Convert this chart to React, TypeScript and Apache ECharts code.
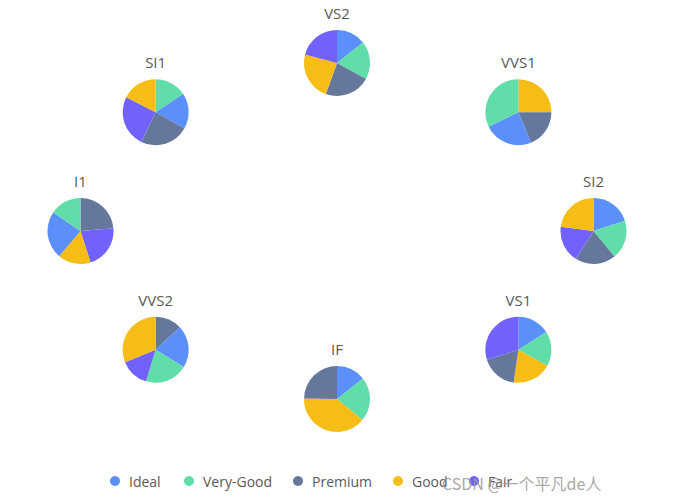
import React, { useEffect, useRef } from "react";
import * as echarts from "echarts";

const cuts = ["Ideal", "Very-Good", "Premium", "Good", "Fair"];
const cutColors = ["#5B8FF9", "#61DDAA", "#65789B", "#F6BD16", "#7262FD"];

// clarity groups placed around the ellipse, with angle in degrees (0 = right, counter-clockwise)
const clarities = ["I1", "SI1", "VS2", "VVS1", "SI2", "VS1", "IF", "VVS2"];
const clarityAngles = [180, 135, 90, 45, 0, -45, -90, -135];

// slice order (clockwise from 12 o'clock) and values (percent) per clarity
const I1Names = ["Premium", "Fair", "Good", "Ideal", "Very-Good"];
const I1Values = [23.7, 21.4, 16.1, 23.3, 15.5];
const SI1Names = ["Very-Good", "Ideal", "Premium", "Fair", "Good"];
const SI1Values = [15.7, 17.5, 24.0, 25.3, 17.5];
const VS2Names = ["Ideal", "Very-Good", "Premium", "Good", "Fair"];
const VS2Values = [14.4, 18.6, 22.5, 23.6, 20.9];
const VVS1Names = ["Good", "Premium", "Ideal", "Very-Good"];
const VVS1Values = [25.0, 18.7, 24.1, 32.2];
const SI2Names = ["Ideal", "Very-Good", "Premium", "Fair", "Good"];
const SI2Values = [20.0, 19.1, 19.9, 18.1, 22.9];
const VS1Names = ["Ideal", "Very-Good", "Good", "Premium", "Fair"];
const VS1Values = [16.0, 17.0, 19.3, 17.8, 29.9];
const IFNames = ["Ideal", "Very-Good", "Good", "Premium"];
const IFValues = [14.3, 21.7, 39.3, 24.7];
const VVS2Names = ["Premium", "Ideal", "Very-Good", "Fair", "Good"];
const VVS2Values = [13.1, 20.6, 21.0, 14.2, 31.1];

const pieNames: Record<string, string[]> = {
  I1: I1Names, SI1: SI1Names, VS2: VS2Names, VVS1: VVS1Names,
  SI2: SI2Names, VS1: VS1Names, IF: IFNames, VVS2: VVS2Names,
};
const pieValues: Record<string, number[]> = {
  I1: I1Values, SI1: SI1Values, VS2: VS2Values, VVS1: VVS1Values,
  SI2: SI2Values, VS1: VS1Values, IF: IFValues, VVS2: VVS2Values,
};

const FONT = "'Open Sans', 'Noto Sans', sans-serif";
const legendLefts = [110, 184, 293, 393, 469];

export default function App() {
  const ref = useRef<HTMLDivElement>(null);
  useEffect(() => {
    if (!ref.current) return;
    const chart = echarts.init(ref.current, undefined, { renderer: "svg" });
    const cx = 337;
    const cy = 231;
    const rx = 256.5;
    const ry = 168;
    const colorOf = (n: string) => cutColors[cuts.indexOf(n)];

    const series: any[] = [];
    const titles: any[] = [];
    clarities.forEach((c, i) => {
      const a = (clarityAngles[i] * Math.PI) / 180;
      const x = cx + rx * Math.cos(a);
      const y = cy - ry * Math.sin(a);
      series.push({
        type: "pie",
        name: c,
        center: [x, y],
        radius: 33,
        startAngle: 90,
        clockwise: true,
        label: { show: false },
        labelLine: { show: false },
        emphasis: { disabled: true },
        itemStyle: { borderWidth: 0 },
        data: pieNames[c].map((n, k) => ({
          name: n,
          value: pieValues[c][k],
          itemStyle: { color: colorOf(n) },
        })),
      });
      titles.push({
        text: c,
        left: x,
        top: y - 50,
        textAlign: "center",
        textVerticalAlign: "middle",
        padding: 0,
        textStyle: { fontSize: 15, fontWeight: "normal", color: "#595959", fontFamily: FONT },
      });
    });

    const legends = cuts.map((cut, i) => ({
      data: [cut],
      left: legendLefts[i],
      top: 474,
      padding: 0,
      icon: "circle",
      itemWidth: 10,
      itemHeight: 10,
      textStyle: { fontSize: 14, color: "#595959", fontFamily: FONT, padding: [0, 0, 0, 4] },
    }));

    chart.setOption({
      animation: false,
      color: cutColors,
      title: titles,
      legend: legends,
      series,
      graphic: [
        {
          type: "text",
          left: 442,
          top: 475,
          z: 100,
          style: {
            text: "CSDN @一个平凡de人",
            font: "16px 'Noto Sans CJK SC', sans-serif",
            fill: "rgba(150,150,150,0.85)",
          },
        },
      ],
    });
    return () => chart.dispose();
  }, []);
  return (
    <div
      ref={ref}
      style={{ position: "fixed", left: 0, top: 0, width: 677, height: 502, background: "#fff" }}
    />
  );
}
